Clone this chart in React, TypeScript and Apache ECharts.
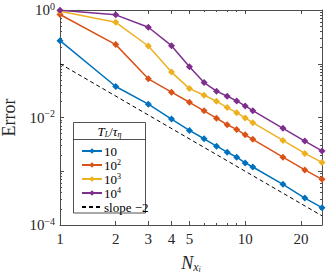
import React, { useEffect, useRef } from "react";
import * as echarts from "echarts";

const N = [1, 2, 3, 4, 5, 6, 7, 8, 9, 10, 11, 16, 21, 26];
const err10 = [0.269, 0.0377, 0.0177, 0.00937, 0.00576, 0.00402, 0.00293, 0.00226, 0.00183, 0.00143, 0.0012, 0.000571, 0.000317, 0.00021];
const err100 = [0.824, 0.227, 0.0525, 0.0296, 0.0192, 0.0133, 0.0097, 0.00733, 0.00601, 0.00477, 0.00392, 0.00183, 0.00106, 0.000708];
const err1000 = [0.95, 0.591, 0.214, 0.07, 0.0345, 0.026, 0.0201, 0.0153, 0.0123, 0.0098, 0.008, 0.00375, 0.00215, 0.00146];
const err10000 = [0.99, 0.813, 0.477, 0.217, 0.088, 0.0447, 0.0309, 0.0249, 0.0203, 0.0164, 0.0134, 0.00628, 0.00364, 0.00239];
const slopeN = [1, 26];
const slopeErr = [0.1, 0.000148];

const seriesNames = ["10", "10^2", "10^3", "10^4", "slope −2"];
const colors = ["#0072BD", "#D95319", "#EDB120", "#7E2F8E", "#000000"];

const xLabelTicks = [1, 2, 3, 4, 5, 10, 20];
const xMinorTicks = [6, 7, 8, 9];
const yLabelTicks = [1, 0.01, 0.0001];
const yMajorTicks = [1, 0.1, 0.01, 0.001, 0.0001];
const yMinorTicks = [
  0.2, 0.3, 0.4, 0.5, 0.6, 0.7, 0.8, 0.9,
  0.02, 0.03, 0.04, 0.05, 0.06, 0.07, 0.08, 0.09,
  0.002, 0.003, 0.004, 0.005, 0.006, 0.007, 0.008, 0.009,
  0.0002, 0.0003, 0.0004, 0.0005, 0.0006, 0.0007, 0.0008, 0.0009,
];

const FONT = "'Liberation Serif', 'DejaVu Serif', serif";
const AXIS_COLOR = "#4d4d4d";
const TEXT_COLOR = "#262626";

export default function App() {
  const ref = useRef<HTMLDivElement>(null);
  useEffect(() => {
    if (!ref.current) return;
    document.body.style.margin = "0";
    const chart = echarts.init(ref.current, undefined, { renderer: "svg" });
    const xBase = (extra: any) => ({
      type: "log",
      logBase: 10,
      min: 1,
      max: 26,
      splitLine: { show: false },
      axisLine: { show: true, onZero: false, lineStyle: { color: AXIS_COLOR, width: 1 } },
      axisLabel: { show: false },
      axisTick: { show: true, inside: true, length: 4, lineStyle: { color: AXIS_COLOR } },
      minorTick: { show: false },
      ...extra,
    });
    const yBase = (extra: any) => ({
      type: "log",
      logBase: 10,
      min: 0.0001,
      max: 1,
      splitLine: { show: false },
      axisLine: { show: true, onZero: false, lineStyle: { color: AXIS_COLOR, width: 1 } },
      axisLabel: { show: false },
      axisTick: { show: true, inside: true, length: 4, lineStyle: { color: AXIS_COLOR } },
      minorTick: { show: false },
      ...extra,
    });
    const supText = (v: number) => {
      const e = Math.round(Math.log10(v));
      return "10{s|" + (e < 0 ? "−" + -e : String(e)) + "}";
    };
    const lineSeries = [err10, err100, err1000, err10000].map((arr, i) => ({
      name: seriesNames[i],
      type: "line",
      xAxisIndex: 0,
      yAxisIndex: 0,
      data: N.map((n, k) => [n, arr[k]]),
      symbol: "diamond",
      symbolSize: 7,
      lineStyle: { color: colors[i], width: 1.5 },
      itemStyle: { color: colors[i] },
      z: 2,
    }));
    const slopeSeries = {
      name: seriesNames[4],
      type: "line",
      xAxisIndex: 0,
      yAxisIndex: 0,
      data: slopeN.map((n, k) => [n, slopeErr[k]]),
      symbol: "none",
      lineStyle: { color: "#000", width: 1, type: [4, 3] },
      itemStyle: { color: "#000" },
      z: 2,
    };
    chart.setOption({
      animation: false,
      grid: { left: 60, right: 5, top: 10, bottom: 48, outerBoundsMode: "none", containLabel: false },
      xAxis: [
        xBase({
          position: "bottom",
          axisTick: { show: true, inside: true, length: 4, customValues: xLabelTicks, lineStyle: { color: AXIS_COLOR } },
          axisLabel: {
            show: true,
            customValues: xLabelTicks,
            margin: 6,
            fontFamily: FONT,
            fontSize: 15,
            color: TEXT_COLOR,
            formatter: (v: number) => String(Math.round(v)),
          },
          name: "{n|N}{s|x}{ss|i}",
          nameLocation: "middle",
          nameGap: 28,
          nameTextStyle: {
            rich: {
              n: { fontFamily: FONT, fontStyle: "italic", fontSize: 18, color: TEXT_COLOR },
              s: { fontFamily: FONT, fontStyle: "italic", fontSize: 12, color: TEXT_COLOR, verticalAlign: "bottom", padding: [8, 0, 0, 0] },
              ss: { fontFamily: FONT, fontStyle: "italic", fontSize: 8, color: TEXT_COLOR, verticalAlign: "bottom", padding: [11, 0, 0, 0] },
            },
          },
        }),
        xBase({
          position: "top",
          axisTick: { show: true, inside: true, length: 4, customValues: xLabelTicks, lineStyle: { color: AXIS_COLOR } },
        }),
        xBase({
          position: "bottom",
          axisLine: { show: false },
          axisTick: { show: true, inside: true, length: 2, customValues: xMinorTicks, lineStyle: { color: AXIS_COLOR } },
        }),
        xBase({
          position: "top",
          axisLine: { show: false },
          axisTick: { show: true, inside: true, length: 2, customValues: xMinorTicks, lineStyle: { color: AXIS_COLOR } },
        }),
      ],
      yAxis: [
        yBase({
          position: "left",
          axisTick: { show: true, inside: true, length: 4, customValues: yMajorTicks, lineStyle: { color: AXIS_COLOR } },
          axisLabel: {
            show: true,
            customValues: yLabelTicks,
            margin: 5,
            formatter: supText,
            fontFamily: FONT,
            fontSize: 15,
            color: TEXT_COLOR,
            rich: {
              s: { fontFamily: FONT, fontSize: 10, color: TEXT_COLOR, verticalAlign: "top", padding: [0, 0, 8, 0] },
            },
          },
          name: "Error",
          nameLocation: "middle",
          nameGap: 37,
          nameRotate: 90,
          nameTextStyle: { fontFamily: FONT, fontSize: 18, lineHeight: 14, color: TEXT_COLOR },
        }),
        yBase({
          position: "right",
          axisTick: { show: true, inside: true, length: 4, customValues: yMajorTicks, lineStyle: { color: AXIS_COLOR } },
        }),
        yBase({
          position: "left",
          axisLine: { show: false },
          axisTick: { show: true, inside: true, length: 2, customValues: yMinorTicks, lineStyle: { color: AXIS_COLOR } },
        }),
        yBase({
          position: "right",
          axisLine: { show: false },
          axisTick: { show: true, inside: true, length: 2, customValues: yMinorTicks, lineStyle: { color: AXIS_COLOR } },
        }),
      ],
      legend: {
        show: true,
        orient: "vertical",
        left: 76,
        top: 139,
        itemWidth: 20,
        itemHeight: 7,
        itemGap: 0,
        data: [
          seriesNames[0],
          seriesNames[1],
          seriesNames[2],
          seriesNames[3],
          { name: seriesNames[4], itemStyle: { opacity: 0, color: "transparent", borderWidth: 0 } },
        ],
        formatter: (name: string) => {
          if (name.startsWith("10^")) return "10{s|" + name.slice(3) + "}";
          return name;
        },
        textStyle: {
          fontFamily: FONT,
          fontSize: 13,
          color: "#000",
          lineHeight: 14,
          padding: [0, 0, 0, -3],
          rich: {
            s: { fontFamily: FONT, fontSize: 8, lineHeight: 14, color: "#000", verticalAlign: "top", padding: [0, 0, 6, 0] },
          },
        },
        z: 5,
      },
      graphic: [
        {
          type: "rect",
          z: 3,
          shape: { x: 73.5, y: 122.5, width: 72, height: 90.5 },
          style: { fill: "#fff", stroke: "#262626", lineWidth: 0.8 },
        },
        {
          type: "line",
          z: 4,
          shape: { x1: 73.5, y1: 139.5, x2: 145.5, y2: 139.5 },
          style: { stroke: "#262626", lineWidth: 0.8 },
        },
        {
          type: "text",
          z: 4,
          x: 109.5,
          y: 131,
          style: {
            text: "{i|T}{sb|L}{n|/}{i|τ}{sb|η}",
            align: "center",
            verticalAlign: "middle",
            rich: {
              i: { fontFamily: FONT, fontStyle: "italic", fontSize: 13, fill: "#000" },
              n: { fontFamily: FONT, fontSize: 13, fill: "#000" },
              sb: { fontFamily: FONT, fontStyle: "italic", fontSize: 8, fill: "#000", verticalAlign: "bottom", padding: [6, 0, 0, 0] },
            },
          },
        },
      ],
      series: [...lineSeries, slopeSeries],
    });
    return () => chart.dispose();
  }, []);
  return <div ref={ref} style={{ width: 327, height: 273 }} />;
}
